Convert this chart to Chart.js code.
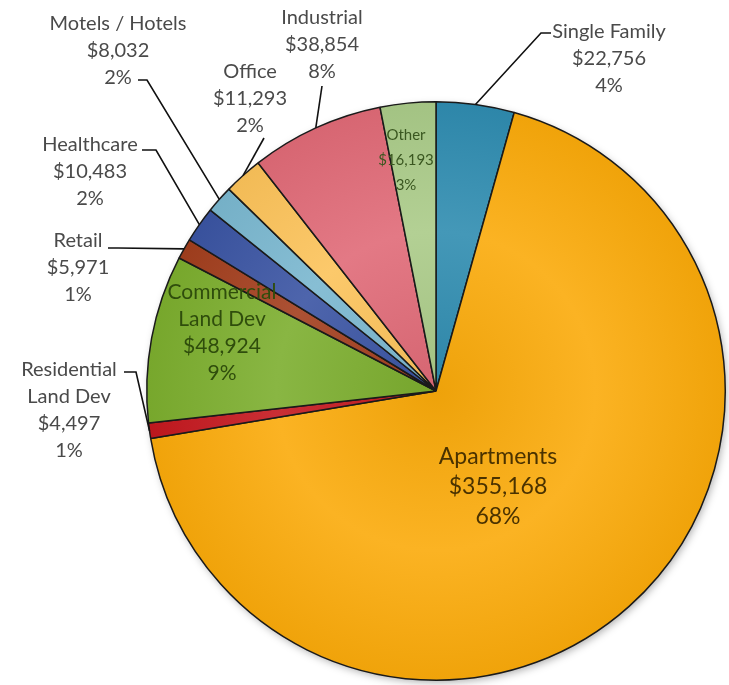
<!DOCTYPE html>
<html>
<head>
<meta charset="utf-8">
<script src="https://cdn.jsdelivr.net/npm/chart.js@4.4.1/dist/chart.umd.min.js"></script>
<style>
  html, body { margin: 0; padding: 0; background: #fff; }
  canvas { display: block; }
</style>
</head>
<body>
<canvas id="chart" width="729" height="685"></canvas>
<script>
// values as printed on the slices
const categories = ["Single Family", "Apartments", "Residential Land Dev", "Commercial Land Dev", "Retail",
  "Healthcare", "Motels / Hotels", "Office", "Industrial", "Other"]
const amounts = [22756, 355168, 4497, 48924, 5971, 10483, 8032, 11293, 38854, 16193]
const percents = [4, 68, 1, 9, 1, 2, 2, 2, 8, 3]

const colors = ["#2f8cb0", "#faaa0a", "#c4181e", "#7cae2e", "#a33e1d",
  "#3a54a3", "#7ab7cf", "#fcc35a", "#e06a77", "#aacb88"]

// where each label block sits (first line centre) and the leader's fixed points
const labelLayout = [
  { x: 609, y: 32, leader: [[551, 33], [541, 33]] },
  { x: 498, y: 457, lh: 30, size: 23, color: "#4a3200" },
  { x: 69, y: 370, leader: [[124, 372], [136, 372]] },
  { x: 222, y: 292, size: 21, color: "#2f4d0c" },
  { x: 78, y: 241, leader: [[108, 248], [118, 248]] },
  { x: 90, y: 145, leader: [[142, 150], [156, 150]] },
  { x: 118, y: 24, leader: [[138, 80], [147, 80]] },
  { x: 250, y: 72, leader: [[264, 138]] },
  { x: 322, y: 18, leader: [[322, 86]] },
  { x: 406, y: 135, lh: 25, size: 15, color: "#3a5720" }
]

function shade(hex, amt) {
  const n = parseInt(hex.slice(1), 16)
  let r = n >> 16, g = (n >> 8) & 255, b = n & 255
  const f = c => Math.round(amt >= 0 ? c + (255 - c) * amt : c * (1 + amt))
  return `rgb(${f(r)},${f(g)},${f(b)})`
}

function sliceFill(ctx) {
  const base = colors[ctx.dataIndex]
  const area = ctx.chart.chartArea
  if (!area) return base
  const cx = (area.left + area.right) / 2
  const cy = (area.top + area.bottom) / 2
  const r = Math.min(area.width, area.height) / 2
  const g = ctx.chart.ctx.createRadialGradient(cx, cy, 0, cx, cy, r)
  g.addColorStop(0, shade(base, -0.05))
  g.addColorStop(0.55, shade(base, 0.1))
  g.addColorStop(1, shade(base, -0.04))
  return g
}

const pieShadow = {
  id: "pieShadow",
  beforeDatasetsDraw(chart) {
    const arc = chart.getDatasetMeta(0).data[0]
    if (!arc) return
    const { x, y, outerRadius } = arc.getProps(["x", "y", "outerRadius"], true)
    const ctx = chart.ctx
    ctx.save()
    ctx.shadowColor = "rgba(0,0,0,0.35)"
    ctx.shadowBlur = 8
    ctx.shadowOffsetX = 2
    ctx.shadowOffsetY = 3
    ctx.fillStyle = "#fff"
    ctx.beginPath()
    ctx.arc(x, y, outerRadius - 1, 0, Math.PI * 2)
    ctx.fill()
    ctx.restore()
  }
}

const sliceLabels = {
  id: "sliceLabels",
  afterDatasetsDraw(chart) {
    const ctx = chart.ctx
    const arcs = chart.getDatasetMeta(0).data
    arcs.forEach((arc, i) => {
      const lay = labelLayout[i]
      const { x, y, startAngle, endAngle, outerRadius } =
        arc.getProps(["x", "y", "startAngle", "endAngle", "outerRadius"], true)

      if (lay.leader) {
        const mid = (startAngle + endAngle) / 2
        const pts = lay.leader.concat([[x + Math.cos(mid) * outerRadius, y + Math.sin(mid) * outerRadius]])
        ctx.save()
        ctx.strokeStyle = "#111"
        ctx.lineWidth = 1.6
        ctx.beginPath()
        pts.forEach((p, k) => k ? ctx.lineTo(p[0], p[1]) : ctx.moveTo(p[0], p[1]))
        ctx.stroke()
        ctx.restore()
      }

      const lines = categories[i].replace(" Land Dev", "\nLand Dev").split("\n")
      lines.push("$" + amounts[i].toLocaleString("en-US"), percents[i] + "%")
      ctx.save()
      ctx.font = `${lay.size || 20}px Lato, "Open Sans", sans-serif`
      ctx.fillStyle = lay.color || "#4a4a4a"
      ctx.textAlign = "center"
      ctx.textBaseline = "middle"
      lines.forEach((t, k) => ctx.fillText(t, lay.x, lay.y + k * (lay.lh || 27)))
      ctx.restore()
    })
  }
}

new Chart(document.getElementById("chart"), {
  type: "pie",
  data: {
    labels: categories,
    datasets: [{
      data: amounts,
      backgroundColor: sliceFill,
      borderColor: "#1a1a1a",
      borderWidth: 1.5
    }]
  },
  options: {
    responsive: false,
    animation: false,
    layout: { padding: { left: 146, right: 3, top: 101, bottom: 4 } },
    plugins: {
      legend: { display: false },
      tooltip: { enabled: false }
    }
  },
  plugins: [pieShadow, sliceLabels]
})
</script>
</body>
</html>
